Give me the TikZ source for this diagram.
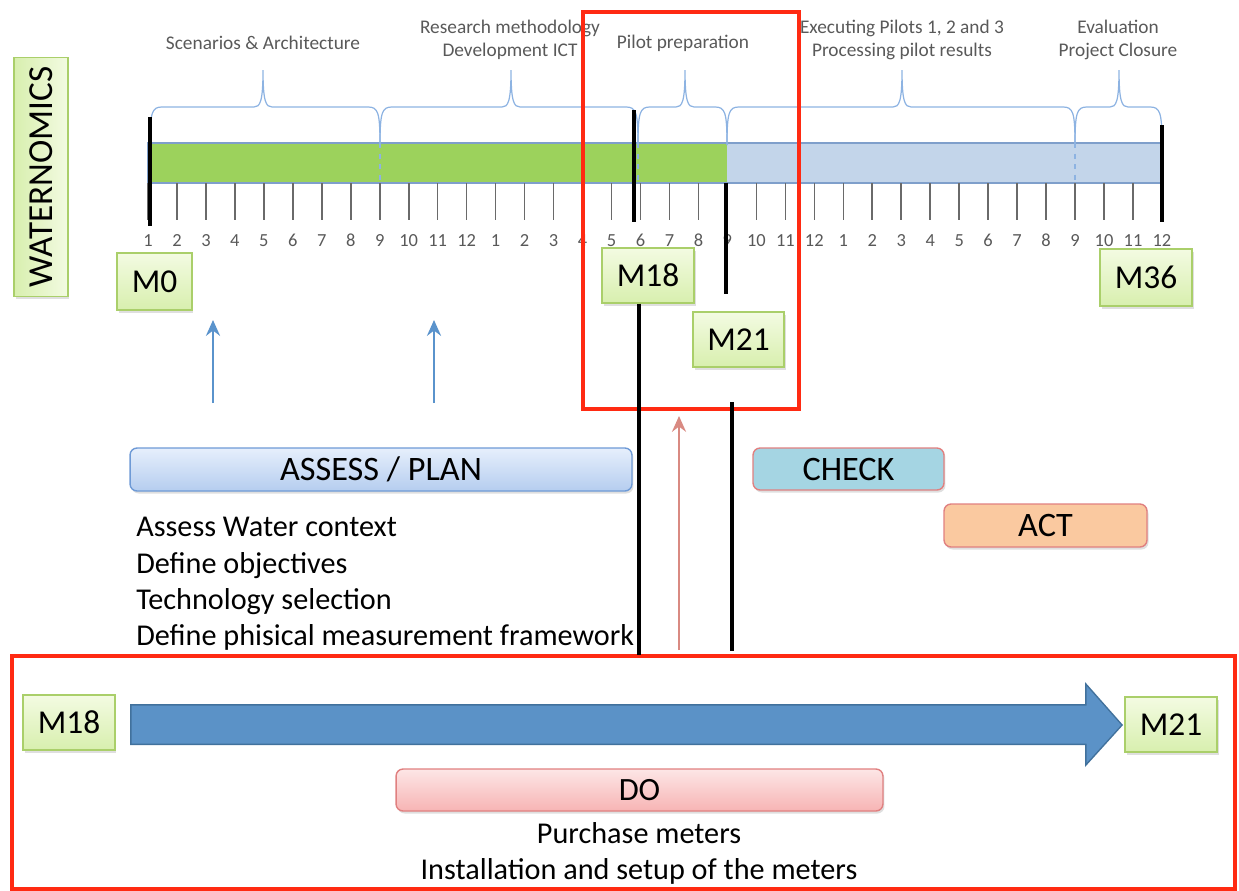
\documentclass[tikz,border=0pt]{standalone}
\usepackage{fontspec}
\setmainfont{Carlito}
\usetikzlibrary{arrows.meta,shadows}
\definecolor{redbox}{HTML}{FF2A12}
\definecolor{greenbar}{HTML}{9CD25C}
\definecolor{bluebar}{HTML}{C3D5EA}
\definecolor{barline}{HTML}{7F9FCB}
\definecolor{bracecol}{HTML}{8DB3E2}
\definecolor{msborder}{HTML}{AACF6A}
\definecolor{mstop}{HTML}{F3FBE2}
\definecolor{msbot}{HTML}{D8EFAE}
\definecolor{labgray}{HTML}{595959}
\definecolor{tickgray}{HTML}{6A6A6A}
\definecolor{arrowblue}{HTML}{5A93CC}
\definecolor{bigarrow}{HTML}{5B92C7}
\definecolor{bigarrowline}{HTML}{41719C}
\definecolor{arrowred}{HTML}{D98A82}
\definecolor{plantop}{HTML}{E6EFFC}
\definecolor{planbot}{HTML}{B5CDEF}
\definecolor{planline}{HTML}{6E9AD6}
\definecolor{checkfill}{HTML}{A5D5E3}
\definecolor{actfill}{HTML}{FAC9A0}
\definecolor{pinkline}{HTML}{E08080}
\definecolor{dotop}{HTML}{FDE6E6}
\definecolor{dobot}{HTML}{F7B4B4}
\begin{document}
\begin{tikzpicture}[x=0.02cm,y=-0.02cm,
  ms/.style={draw=msborder, line width=0.8pt, top color=mstop, bottom color=msbot,
    font=\fontsize{19}{19}\selectfont, inner sep=0pt,
    drop shadow={opacity=0.25, shadow xshift=0.03cm, shadow yshift=-0.05cm}},
  phase/.style={rounded corners=4pt, line width=0.8pt, inner sep=0pt,
    font=\fontsize{19.5}{19.5}\selectfont,
    drop shadow={opacity=0.25, shadow xshift=0.03cm, shadow yshift=-0.05cm}},
  toplab/.style={text=labgray, font=\fontsize{11}{13}\selectfont, align=center, inner sep=0pt},
  ticklab/.style={text=labgray, font=\fontsize{10.5}{12}\selectfont, inner sep=0pt},
  body/.style={font=\fontsize{17.2}{18}\selectfont, inner sep=0pt},
  redframe/.style={draw=redbox, line width=2.3pt},
  blackline/.style={draw=black, line width=2pt},
  bracestyle/.style={draw=bracecol, line width=0.7pt}
]
\useasboundingbox (0,0) rectangle (1239,890);

% timeline bar
\fill[greenbar] (148,143) rectangle (727,183);
\fill[bluebar] (727,143) rectangle (1162,183);
\draw[barline, line width=0.8pt] (148,143) rectangle (1162,183);
\foreach \xx in {380,638,1075}
  \draw[bracecol, dashed, line width=0.6pt] (\xx,143) -- (\xx,183);

% ticks and labels
\foreach \i in {0,...,35}{
  \pgfmathsetmacro\tx{148+\i*28.97}
  \pgfmathtruncatemacro\mm{mod(\i,12)+1}
  \draw[tickgray, line width=0.9pt] (\tx,183) -- (\tx,220);
  \node[ticklab, anchor=base] (t\i) at (\tx,246) {\mm};
}

% braces
\foreach \a/\m/\b in {150/263/380, 380/511/638, 638/685/727, 727/902/1075, 1075/1119/1162}{
  \draw[bracestyle] (\a,145) .. controls (\a,112) and ({\a+2},107) .. ({\a+12},107)
    -- ({\m-9},107) .. controls ({\m-3},107) and (\m,102) .. (\m,70)
    .. controls (\m,102) and ({\m+3},107) .. ({\m+9},107)
    -- ({\b-12},107) .. controls ({\b-2},107) and (\b,112) .. (\b,145);
}

% phase labels
\node[toplab] (l1) at (263,43) {Scenarios \& Architecture};
\node[toplab] (l2) at (510,40) {Research methodology\\Development ICT};
\node[toplab] (l3) at (683,43) {Pilot preparation};
\node[toplab] (l4) at (902,40) {Executing Pilots 1, 2 and 3\\Processing pilot results};
\node[toplab] (l5) at (1118,40) {Evaluation\\Project Closure};

% thick black milestone marks
\draw[blackline] (150,117) -- (150,226);
\draw[blackline] (1162,125) -- (1162,222);
\draw[blackline] (634,110) -- (634,222);
\draw[blackline] (726,183) -- (726,294);

% top red frame
\draw[redframe] (583,12) rectangle (799,409);

% WATERNOMICS
\node[draw=msborder, line width=0.8pt, left color=msbot, right color=mstop, rotate=90,
  minimum width=4.78cm, minimum height=1.08cm, inner sep=0pt,
  font=\fontsize{20}{20}\selectfont,
  drop shadow={opacity=0.25, shadow xshift=0.03cm, shadow yshift=-0.05cm}]
  (water) at (41,177) {WATERNOMICS};

% milestones
\node[ms, minimum width=1.5cm, minimum height=1.14cm] (m0) at (154.5,281.5) {M0};
\node[ms, minimum width=1.84cm, minimum height=1.1cm] (m18) at (648,275.5) {M18};
\node[ms, minimum width=1.84cm, minimum height=1.14cm] (m36) at (1146,277.5) {M36};
\node[ms, minimum width=1.82cm, minimum height=1.1cm] (m21) at (738.5,339.5) {M21};

% blue arrows
\coordinate (a1s) at (213,403); \coordinate (a1e) at (213,320);
\coordinate (a2s) at (434,403); \coordinate (a2e) at (434,320);
\draw[arrowblue, line width=1.5pt, -{Stealth[length=9pt,width=8pt,inset=3pt]}] (a1s) -- (a1e);
\draw[arrowblue, line width=1.5pt, -{Stealth[length=9pt,width=8pt,inset=3pt]}] (a2s) -- (a2e);

% phase boxes
\node[phase, draw=planline, top color=plantop, bottom color=planbot,
  minimum width=10.04cm, minimum height=0.86cm] (plan) at (381,469.5) {ASSESS / PLAN};
\node[phase, draw=pinkline, fill=checkfill,
  minimum width=3.82cm, minimum height=0.84cm] (check) at (848.5,469) {CHECK};
\node[phase, draw=pinkline, fill=actfill,
  minimum width=4.06cm, minimum height=0.86cm] (act) at (1045.5,525.5) {ACT};

% plan text
\node[body, anchor=base west] (p1) at (136,536) {Assess Water context};
\node[body, anchor=base west] (p2) at (136,573) {Define objectives};
\node[body, anchor=base west] (p3) at (136,609) {Technology selection};
\node[body, anchor=base west] (p4) at (136,645) {Define phisical measurement framework};

% bottom red frame
\draw[redframe] (12,656) rectangle (1235,889);

% vertical connectors
\coordinate (m18foot) at (639,655);
\coordinate (m21top) at (732,402);
\coordinate (m21foot) at (732,651);
\draw[blackline] (m18.south -| m18foot) -- (m18foot);
\draw[blackline] (m21top) -- (m21foot);
\coordinate (rs) at (679,650); \coordinate (re) at (679,416);
\draw[arrowred, line width=1.3pt, -{Stealth[length=9pt,width=8pt,inset=3pt]}] (rs) -- (re);

% bottom milestones and arrow
\node[ms, minimum width=1.84cm, minimum height=1.1cm] (m18b) at (69,722.5) {M18};
\node[ms, minimum width=1.84cm, minimum height=1.1cm] (m21b) at (1171,724.5) {M21};
\fill[bigarrowline] (130,704) -- (1085,704) -- (1085,682) -- (1123,725) -- (1085,767) -- (1085,745) -- (130,745) -- cycle;
\fill[bigarrow] (131.5,705.5) -- (1086.5,705.5) -- (1086.5,686) -- (1121,725) -- (1086.5,763) -- (1086.5,743.5) -- (131.5,743.5) -- cycle;

\node[phase, draw=pinkline, top color=dotop, bottom color=dobot,
  minimum width=9.74cm, minimum height=0.84cm, font=\fontsize{18.5}{18.5}\selectfont] (do) at (639.5,790) {DO};
\node[body, anchor=base] (d1) at (639,843) {Purchase meters};
\node[body, anchor=base] (d2) at (639,879) {Installation and setup of the meters};
\end{tikzpicture}
\end{document}
